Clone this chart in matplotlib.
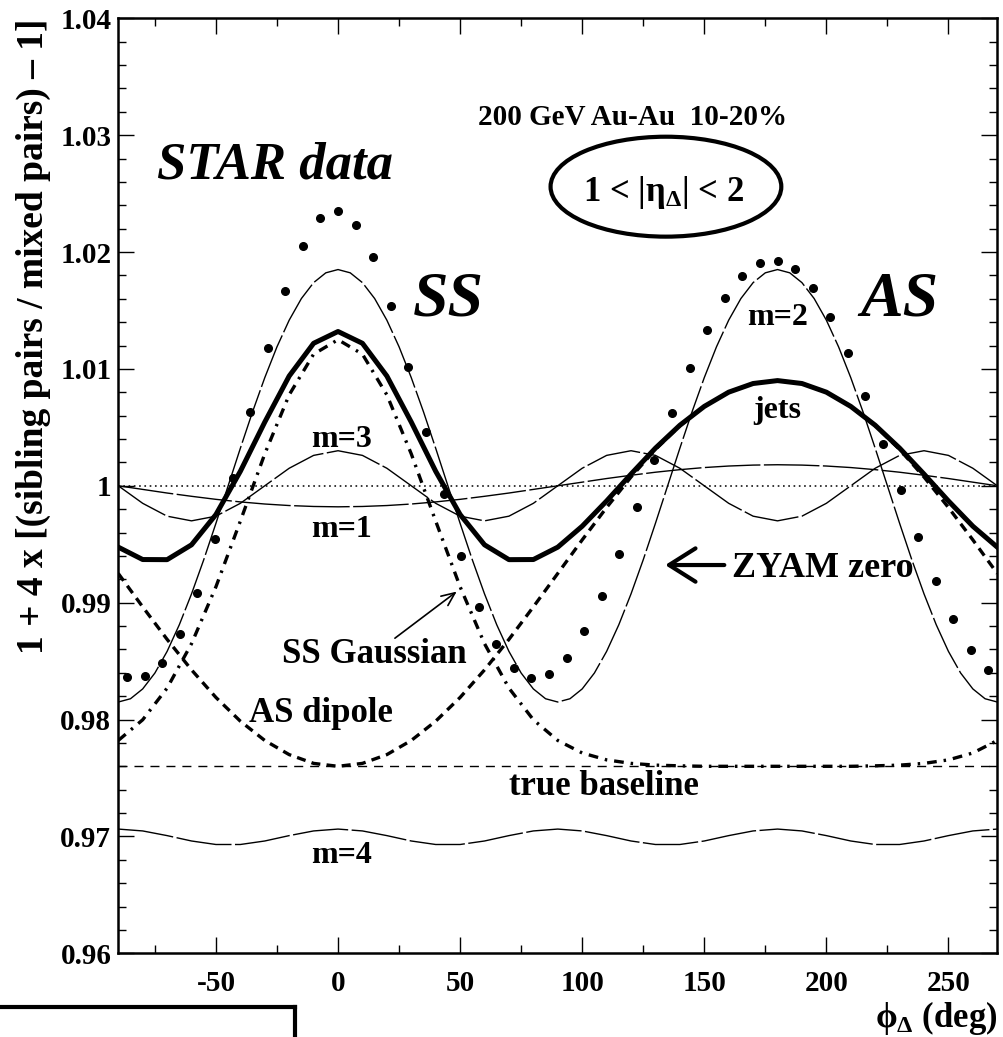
import numpy as np
import matplotlib
matplotlib.use("Agg")
import matplotlib.pyplot as plt
from matplotlib.patches import Ellipse
from matplotlib.lines import Line2D
from matplotlib.ticker import MultipleLocator, FuncFormatter

plt.rcParams['font.family'] = ['Liberation Serif', 'DejaVu Serif']
plt.rcParams['font.weight'] = 'bold'
plt.rcParams['mathtext.fontset'] = 'custom'
plt.rcParams['mathtext.rm'] = 'Liberation Serif:bold'
plt.rcParams['mathtext.it'] = 'Liberation Serif:italic:bold'
plt.rcParams['mathtext.bf'] = 'Liberation Serif:bold'
plt.rcParams['lines.scale_dashes'] = False
plt.rcParams['axes.unicode_minus'] = False

# STAR data: 50 azimuth bins (7.2 deg wide)
phi_bins = np.arange(50) * 7.2 - 86.4
star_data = [0.98367, 0.98373, 0.98487, 0.98732, 0.99086, 0.99542, 1.00064, 1.00629,
             1.01176, 1.01669, 1.02051, 1.02288, 1.02351, 1.02234, 1.01955, 1.01541,
             1.01019, 1.00463, 0.99930, 0.99399, 0.98966, 0.98644, 0.98444, 0.98358,
             0.98393, 0.98524, 0.98758, 0.99057, 0.99417, 0.99816, 1.00221, 1.00625,
             1.01008, 1.01333, 1.01609, 1.01797, 1.01903, 1.01923, 1.01852, 1.01689,
             1.01447, 1.01133, 1.00771, 1.00360, 0.99964, 0.99559, 0.99183, 0.98861,
             0.98595, 0.98424]

# model curves sampled every 10 deg from -90 to 270
phi = np.arange(-90, 271, 10)

jets = [0.99475, 0.99369, 0.99368, 0.99495, 0.99754, 1.00124, 1.00545, 1.00939, 1.01219,
        1.01320, 1.01219, 1.00939, 1.00545, 1.00124, 0.99754, 0.99495, 0.99368, 0.99369,
        0.99475, 0.99654, 0.99870, 1.00100, 1.00322, 1.00518, 1.00679, 1.00801, 1.00875,
        1.00900, 1.00875, 1.00801, 1.00679, 1.00518, 1.00322, 1.00100, 0.99870, 0.99654,
        0.99475]

ss_gauss = [0.97821, 0.97998, 0.98269, 0.98649, 0.99136, 0.99698, 1.00273, 1.00778, 1.01126,
            1.01250, 1.01126, 1.00778, 1.00273, 0.99698, 0.99136, 0.98649, 0.98269, 0.97998,
            0.97821, 0.97714, 0.97655, 0.97625, 0.97610, 0.97604, 0.97600, 0.97600, 0.97600,
            0.97600, 0.97600, 0.97600, 0.97600, 0.97604, 0.97610, 0.97625, 0.97655, 0.97714,
            0.97821]

as_dipole = [0.99250, 0.98964, 0.98686, 0.98425, 0.98189, 0.97986, 0.97821, 0.97700, 0.97625,
             0.97600, 0.97625, 0.97700, 0.97821, 0.97986, 0.98189, 0.98425, 0.98686, 0.98964,
             0.99250, 0.99537, 0.99814, 1.00075, 1.00311, 1.00514, 1.00679, 1.00801, 1.00875,
             1.00900, 1.00875, 1.00801, 1.00679, 1.00514, 1.00311, 1.00075, 0.99814, 0.99537,
             0.99250]

m1 = [1.00000, 0.99969, 0.99938, 0.99910, 0.99884, 0.99862, 0.99844, 0.99831, 0.99823,
      0.99820, 0.99823, 0.99831, 0.99844, 0.99862, 0.99884, 0.99910, 0.99938, 0.99969,
      1.00000, 1.00031, 1.00062, 1.00090, 1.00116, 1.00138, 1.00156, 1.00169, 1.00177,
      1.00180, 1.00177, 1.00169, 1.00156, 1.00138, 1.00116, 1.00090, 1.00062, 1.00031,
      1.00000]

m3 = [1.0000, 0.9985, 0.9974, 0.9970, 0.9974, 0.9985, 1.0000, 1.0015, 1.0026,
      1.0030, 1.0026, 1.0015, 1.0000, 0.9985, 0.9974, 0.9970, 0.9974, 0.9985,
      1.0000, 1.0015, 1.0026, 1.0030, 1.0026, 1.0015, 1.0000, 0.9985, 0.9974,
      0.9970, 0.9974, 0.9985, 1.0000, 1.0015, 1.0026, 1.0030, 1.0026, 1.0015,
      1.0000]

m4 = [0.97063, 0.97047, 0.97007, 0.96961, 0.96931, 0.96931, 0.96961, 0.97007, 0.97047,
      0.97063, 0.97047, 0.97007, 0.96961, 0.96931, 0.96931, 0.96961, 0.97007, 0.97047,
      0.97063, 0.97047, 0.97007, 0.96961, 0.96931, 0.96931, 0.96961, 0.97007, 0.97047,
      0.97063, 0.97047, 0.97007, 0.96961, 0.96931, 0.96931, 0.96961, 0.97007, 0.97047,
      0.97063]

# quadrupole on a 5 deg grid (large amplitude)
phi_fine = np.arange(-90, 271, 5)
m2 = [0.98150, 0.98178, 0.98262, 0.98398, 0.98583, 0.98811, 0.99075, 0.99367, 0.99679,
      1.00000, 1.00321, 1.00633, 1.00925, 1.01189, 1.01417, 1.01602, 1.01738, 1.01822,
      1.01850, 1.01822, 1.01738, 1.01602, 1.01417, 1.01189, 1.00925, 1.00633, 1.00321,
      1.00000, 0.99679, 0.99367, 0.99075, 0.98811, 0.98583, 0.98398, 0.98262, 0.98178,
      0.98150, 0.98178, 0.98262, 0.98398, 0.98583, 0.98811, 0.99075, 0.99367, 0.99679,
      1.00000, 1.00321, 1.00633, 1.00925, 1.01189, 1.01417, 1.01602, 1.01738, 1.01822,
      1.01850, 1.01822, 1.01738, 1.01602, 1.01417, 1.01189, 1.00925, 1.00633, 1.00321,
      1.00000, 0.99679, 0.99367, 0.99075, 0.98811, 0.98583, 0.98398, 0.98262, 0.98178,
      0.98150]

true_baseline = 0.976
zyam_level = 1.0

fig = plt.figure(figsize=(10.04, 10.37), dpi=100)
ax = fig.add_axes([0.1178, 0.0807, 0.8755, 0.9017])

ax.plot(phi_bins, star_data, 'o', color='black', ms=5.5, zorder=2)

ax.axhline(zyam_level, color='black', lw=1.1, dashes=(1.2, 2.6), zorder=3)
ax.axhline(true_baseline, color='black', lw=1.0, dashes=(6.5, 5), zorder=3)

thin = dict(color='black', lw=1.0, dashes=(40, 2.5), zorder=3)
ax.plot(phi, m1, **thin)
ax.plot(phi_fine, m2, **thin)
ax.plot(phi, m3, **thin)
ax.plot(phi, m4, **thin)

ax.plot(phi, ss_gauss, color='black', lw=2.4, dashes=(7, 5, 1.8, 5), zorder=4)
ax.plot(phi, as_dipole, color='black', lw=2.4, dashes=(6.5, 4.5), zorder=4)
ax.plot(phi, jets, color='black', lw=3.6, solid_joinstyle='round', zorder=5)

ax.set_xlim(-90, 270)
ax.set_ylim(0.96, 1.04)
ax.xaxis.set_major_locator(MultipleLocator(50))
ax.xaxis.set_minor_locator(MultipleLocator(25))
ax.yaxis.set_major_locator(MultipleLocator(0.01))
ax.yaxis.set_minor_locator(MultipleLocator(0.002))
ax.yaxis.set_major_formatter(FuncFormatter(lambda v, p: f"{round(v, 3):g}"))
ax.tick_params(which='both', direction='in', top=True, right=True, width=1.0,
               labelsize=21)
ax.tick_params(which='major', length=11.5)
ax.tick_params(which='minor', length=5.5)
ax.tick_params(axis='x', pad=12)
ax.tick_params(axis='y', pad=5)
for s in ax.spines.values():
    s.set_linewidth(1.8)

# annotations
ax.text(-26, 1.0263, "STAR data", fontsize=38, style='italic', ha='center', va='baseline')
ax.text(45, 1.0146, "SS", fontsize=46, style='italic', ha='center', va='baseline')
ax.text(230, 1.0146, "AS", fontsize=46, style='italic', ha='center', va='baseline')
ax.text(120.7, 1.0309, "200 GeV Au-Au  10-20%", fontsize=21, ha='center', va='baseline')
ax.add_patch(Ellipse((134.3, 1.02559), 94.5, 0.00855, fill=False, lw=3.0,
                     edgecolor='black', zorder=6))
ax.text(133.2, 1.0244, r"1 < |η$_{\mathrm{Δ}}$| < 2", fontsize=25, ha='center',
        va='baseline')

ax.text(1.5, 1.00334, "m=3", fontsize=23, ha='center', va='baseline')
ax.text(1.5, 0.99565, "m=1", fontsize=23, ha='center', va='baseline')
ax.text(180, 1.01376, "m=2", fontsize=23, ha='center', va='baseline')
ax.text(180, 1.00577, "jets", fontsize=23, ha='center', va='baseline')
ax.text(1.5, 0.96771, "m=4", fontsize=23, ha='center', va='baseline')

ax.text(161.5, 0.99217, "ZYAM zero", fontsize=26, ha='left', va='baseline')
ax.annotate("", xy=(134, 0.99322), xytext=(158.2, 0.99322),
            arrowprops=dict(arrowstyle='->,head_length=0.95,head_width=0.6',
                            lw=3.0, color='black', shrinkA=0, shrinkB=0,
                            mutation_scale=20))

ax.text(15, 0.98482, "SS Gaussian", fontsize=25, ha='center', va='baseline')
ax.annotate("", xy=(48.6, 0.99095), xytext=(23.3, 0.98696),
            arrowprops=dict(arrowstyle='->,head_length=0.8,head_width=0.35',
                            lw=1.2, color='black', shrinkA=0, shrinkB=0,
                            mutation_scale=12))

ax.text(-7.2, 0.97982, "AS dipole", fontsize=25, ha='center', va='baseline')
ax.text(108.8, 0.97357, "true baseline", fontsize=25, ha='center', va='baseline')

fig.text(33 / 1004, 1 - 18.3 / 1037, "1 + 4 x [(sibling pairs / mixed pairs) – 1]",
         rotation=90, ha='center', va='top', fontsize=27)
fig.text(997 / 1004, 1 - 1027 / 1037, "\u03d5" + r"$_{\mathrm{Δ}}$ (deg)", ha='right',
         va='baseline', fontsize=25)

# frame of the neighbouring panel below
fig.add_artist(Line2D([0, 295 / 1004], [1 - 1007.3 / 1037] * 2, color='black', lw=3.0))
fig.add_artist(Line2D([295 / 1004] * 2, [1 - 1007.3 / 1037, 0], color='black', lw=3.0))

fig.savefig("out.png", dpi=100)
